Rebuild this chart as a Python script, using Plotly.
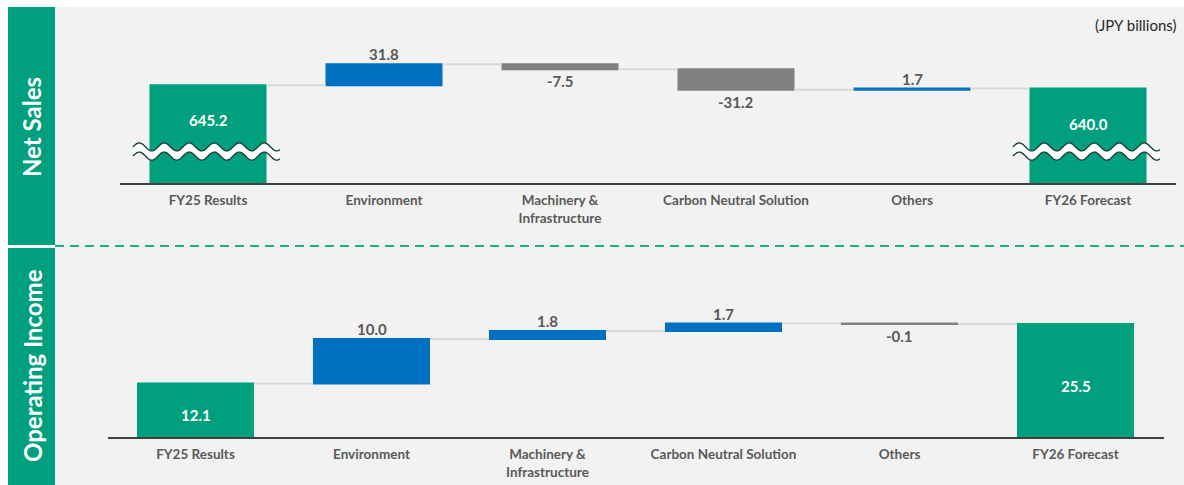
import numpy as np
import plotly.graph_objects as go

# ---------------- data ----------------
categories = ["FY25 Results", "Environment", "Machinery &<br>Infrastructure",
              "Carbon Neutral Solution", "Others", "FY26 Forecast"]
measures = ["absolute", "relative", "relative", "relative", "relative", "total"]
net_sales = [645.2, 31.8, -7.5, -31.2, 1.7, None]
op_income = [12.1, 10.0, 1.8, 1.7, -0.1, None]
unit_note = "(JPY billions)"
panel_titles = ["Net Sales", "Operating Income"]

# ---------------- styling ----------------
W, H = 1184, 485
GREEN = "#00A07E"
BLUE = "#0070C0"
GRAY = "#808080"
BG = "#F2F2F2"
TXT = "#595959"
FONT = "Lato"

def fx(px):
    return px / W

def fy(py):
    return 1 - py / H

# pixel geometry of each panel (left, right, bottom(baseline), top)
P1 = dict(l=120, r=1176, b=183, t=20, ymin=497.0, ppu=0.66)
P2 = dict(l=107.5, r=1163.5, b=437, t=313, ymin=0.0, ppu=4.43)
for p in (P1, P2):
    p["ymax"] = p["ymin"] + (p["b"] - p["t"]) / p["ppu"]

x_idx = list(range(len(categories)))

fig = go.Figure()

def add_panel(vals, xa, ya):
    yv = [v if v is not None else 0 for v in vals]
    fig.add_trace(go.Waterfall(
        x=x_idx, y=yv, measure=measures,
        increasing=dict(marker=dict(color=BLUE)),
        decreasing=dict(marker=dict(color=GRAY)),
        totals=dict(marker=dict(color=GREEN)),
        connector=dict(mode="between", line=dict(color="#D9D9D9", width=2)),
        text=None, hoverinfo="skip",
        xaxis=xa, yaxis=ya, showlegend=False,
    ))

add_panel(net_sales, "x", "y")
add_panel(op_income, "x2", "y2")

annotations = []
shapes = []

# background
shapes.append(dict(type="rect", xref="paper", yref="paper", x0=fx(55), x1=1, y0=0, y1=fy(7),
                   fillcolor=BG, line=dict(width=0), layer="below"))
shapes.append(dict(type="rect", xref="paper", yref="paper", x0=fx(8), x1=fx(55), y0=fy(245), y1=fy(7),
                   fillcolor=GREEN, line=dict(width=0), layer="below"))
shapes.append(dict(type="rect", xref="paper", yref="paper", x0=fx(8), x1=fx(55), y0=0, y1=fy(248),
                   fillcolor=GREEN, line=dict(width=0), layer="below"))
shapes.append(dict(type="line", xref="paper", yref="paper", x0=fx(55), x1=1, y0=fy(246), y1=fy(246),
                   line=dict(color="#1AAE8C", width=2, dash="9px,6px"), layer="below"))

for title, yc in zip(panel_titles, [127, 366]):
    annotations.append(dict(text="<b>%s</b>" % title, xref="paper", yref="paper",
                            x=fx(32), y=fy(yc), showarrow=False, textangle=-90,
                            font=dict(family=FONT, size=24, color="white"),
                            xanchor="center", yanchor="middle"))

annotations.append(dict(text=unit_note, xref="paper", yref="paper", x=fx(1178), y=fy(25),
                        showarrow=False, xanchor="right", yanchor="middle",
                        font=dict(family=FONT, size=15, color="#262626")))

def labels(vals, xa, ya, total_shift_px):
    run = 0.0
    for i, (m, v) in enumerate(zip(measures, vals)):
        if m == "absolute":
            run = v
            annotations.append(dict(text="<b>%.1f</b>" % v, x=i, y=run, xref=xa, yref=ya,
                                    showarrow=False, yanchor="middle", yshift=total_shift_px(run),
                                    font=dict(family=FONT, size=15, color="white")))
        elif m == "relative":
            run = run + v
            if v >= 0:
                annotations.append(dict(text="<b>%.1f</b>" % v, x=i, y=run, xref=xa, yref=ya,
                                        showarrow=False, yanchor="bottom", yshift=-1,
                                        font=dict(family=FONT, size=15, color=TXT)))
            else:
                annotations.append(dict(text="<b>%.1f</b>" % v, x=i, y=run, xref=xa, yref=ya,
                                        showarrow=False, yanchor="top", yshift=-1,
                                        font=dict(family=FONT, size=15, color=TXT)))
        else:
            annotations.append(dict(text="<b>%.1f</b>" % run, x=i, y=run, xref=xa, yref=ya,
                                    showarrow=False, yanchor="middle", yshift=total_shift_px(run),
                                    font=dict(family=FONT, size=15, color="white")))

labels(net_sales, "x", "y", lambda v: -35)
labels(op_income, "x2", "y2", lambda v: -(v * P2["ppu"]) / 2 - 5)

# wavy break marks on the totals of the Net Sales panel (broken axis)
def wave_shapes(i, p):
    xpu = (p["r"] - p["l"]) / len(categories)  # px per category
    xs_px = np.linspace(-75, 72, 240)
    mid_px = 151.5
    amp, off, per = 4.0, 4.6, 25.0
    up = mid_px - off - amp * np.sin(2 * np.pi * (xs_px + 75) / per)
    lo = mid_px + off - amp * np.sin(2 * np.pi * (xs_px + 75) / per)
    xd = i + xs_px / xpu
    to_y = lambda py: p["ymin"] + (p["b"] - py) / p["ppu"]
    yu, yl = to_y(up), to_y(lo)
    fill = "M " + " L ".join("%.4f,%.3f" % (a, b) for a, b in zip(xd, yu))
    fill += " L " + " L ".join("%.4f,%.3f" % (a, b) for a, b in zip(xd[::-1], yl[::-1])) + " Z"
    res = [dict(type="path", xref="x", yref="y", path=fill, fillcolor="white",
                line=dict(width=0), layer="above")]
    for yy in (yu, yl):
        pth = "M " + " L ".join("%.4f,%.3f" % (a, b) for a, b in zip(xd, yy))
        res.append(dict(type="path", xref="x", yref="y", path=pth,
                        line=dict(color="#1F3F3F", width=1.4), layer="above"))
    return res

for i, m in enumerate(measures):
    if m in ("absolute", "total"):
        shapes.extend(wave_shapes(i, P1))

tick_text = ["<b>%s</b>" % c for c in categories]
xcommon = dict(tickmode="array", tickvals=x_idx, ticktext=tick_text, range=[-0.5, len(categories) - 0.5],
               showline=True, linecolor="#404040", linewidth=2, ticks="outside", ticklen=4,
               tickcolor="rgba(0,0,0,0)", showgrid=False, zeroline=False,
               tickfont=dict(family=FONT, size=13.5, color=TXT), fixedrange=True)
ycommon = dict(showgrid=False, zeroline=False, showticklabels=False, showline=False, fixedrange=True)

fig.update_layout(
    width=W, height=H, margin=dict(l=0, r=0, t=0, b=0),
    paper_bgcolor="white", plot_bgcolor="rgba(0,0,0,0)",
    waterfallgap=0.335,
    xaxis=dict(domain=[fx(P1["l"]), fx(P1["r"])], anchor="y", **xcommon),
    yaxis=dict(domain=[fy(P1["b"]), fy(P1["t"])], range=[P1["ymin"], P1["ymax"]], anchor="x", **ycommon),
    xaxis2=dict(domain=[fx(P2["l"]), fx(P2["r"])], anchor="y2", **xcommon),
    yaxis2=dict(domain=[fy(P2["b"]), fy(P2["t"])], range=[P2["ymin"], P2["ymax"]], anchor="x2", **ycommon),
    shapes=shapes, annotations=annotations, showlegend=False,
)

fig.write_html("out.html")
